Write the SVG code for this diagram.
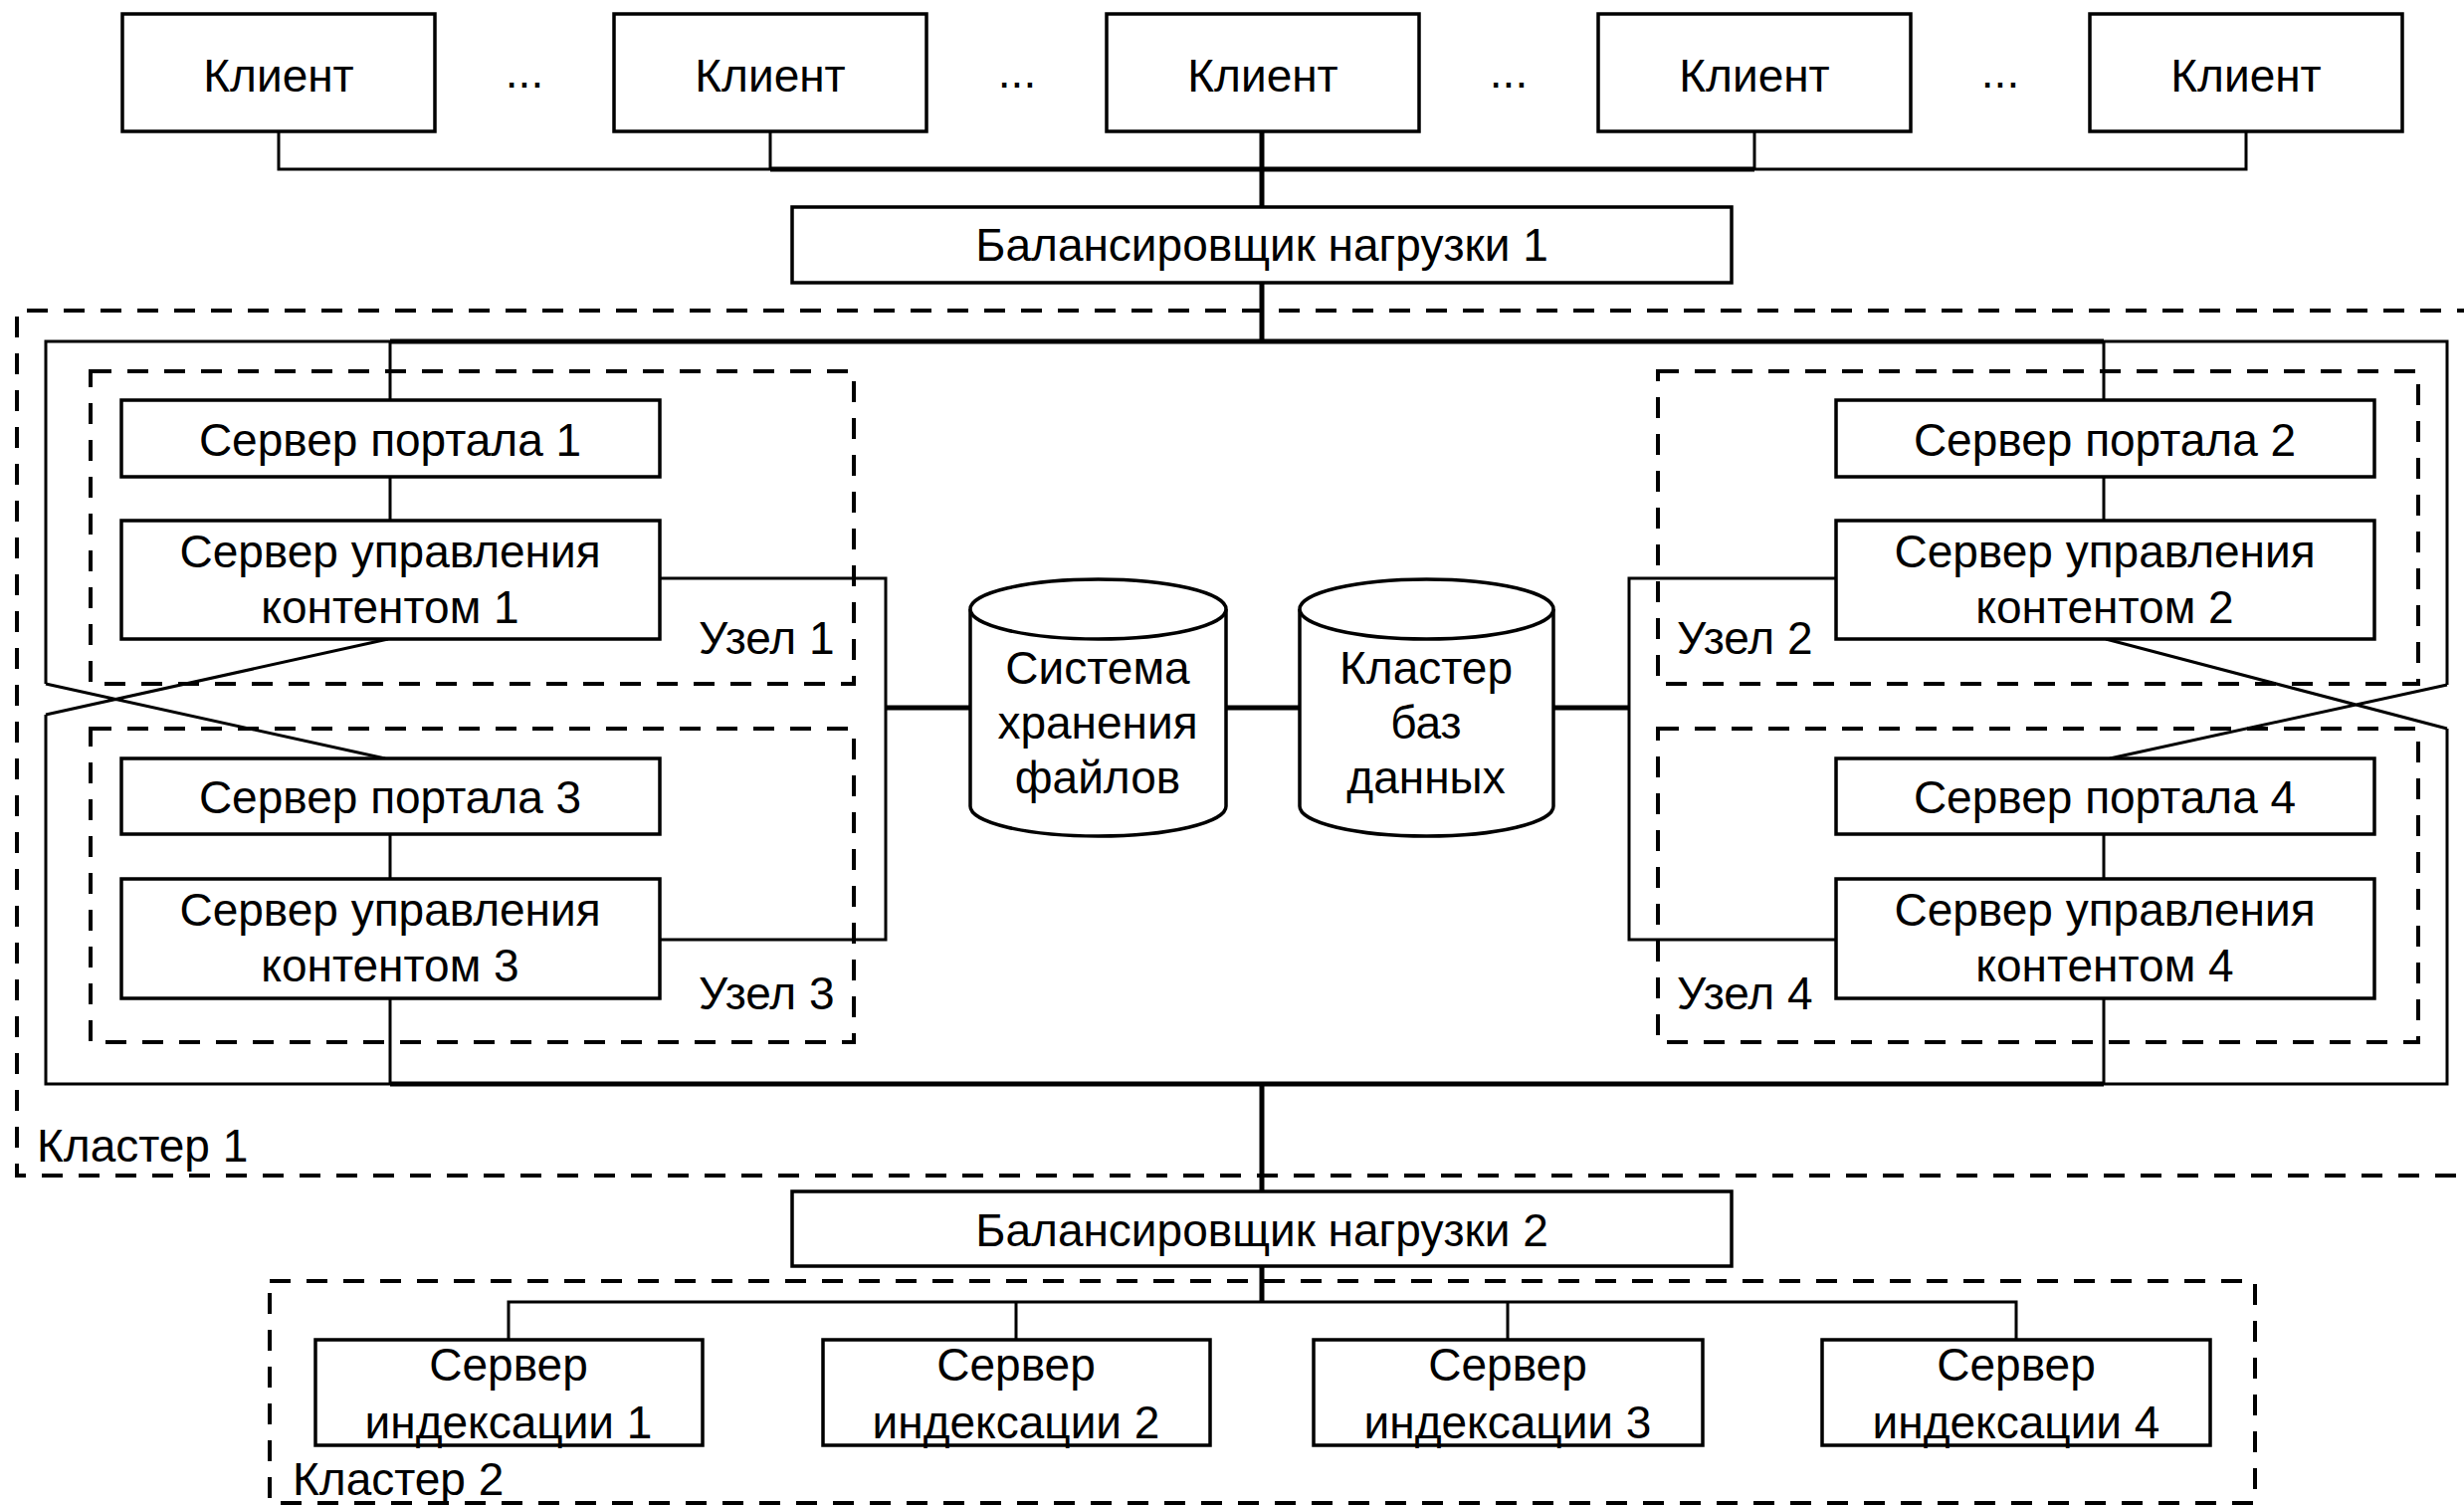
<svg xmlns="http://www.w3.org/2000/svg" width="2476" height="1512" viewBox="0 0 2476 1512">
<style>
.bg{fill:#fff}
.box{fill:#fff;stroke:#000;stroke-width:3.5}
.cyl{fill:#fff;stroke:#000;stroke-width:3.5}
.dash{fill:none;stroke:#000;stroke-width:4;stroke-dasharray:21 16}
.ln{fill:none;stroke:#000;stroke-width:3}
.thk{fill:none;stroke:#000;stroke-width:5}
.t{font-family:"Liberation Sans",Arial,sans-serif;font-size:46px;fill:#000;text-anchor:middle}
.ts{font-family:"Liberation Sans",Arial,sans-serif;font-size:46px;fill:#000;text-anchor:start}
</style>
<rect class="bg" x="0" y="0" width="2476" height="1512"/>

<g id="groups">
  <path id="cluster1" class="dash" d="M2490,312 H17 V1181 H2490"/>
  <rect id="node1" class="dash" x="91" y="373" width="767" height="314"/>
  <rect id="node3" class="dash" x="91" y="732" width="767" height="315"/>
  <rect id="node2" class="dash" x="1666" y="373" width="764" height="314"/>
  <rect id="node4" class="dash" x="1666" y="732" width="764" height="315"/>
  <rect id="cluster2" class="dash" x="271" y="1287" width="1995" height="223"/>
  <text class="ts" x="702" y="657">Узел 1</text>
  <text class="ts" x="702" y="1014">Узел 3</text>
  <text class="ts" x="1685" y="657">Узел 2</text>
  <text class="ts" x="1685" y="1014">Узел 4</text>
  <text class="ts" x="37" y="1167">Кластер 1</text>
  <text class="ts" x="294" y="1502">Кластер 2</text>
</g>

<g id="connectors">
  <path class="ln" d="M280,132 V170 H774 M1763,170 H2257 V132 M774,132 V170 M1763,132 V170"/>
  <path class="thk" d="M774,170 H1763"/>
  <path class="thk" d="M1268,132 V208 M1268,284 V343 M1268,1089 V1197 M1268,1272 V1308"/>
  <path class="ln" d="M392,343 H46 V687 M46,718 V1089 H392"/>
  <path class="ln" d="M2114,343 H2459 V688 M2459,732 V1089 H2114"/>
  <path class="thk" d="M392,343 H2114 M392,1089 H2114"/>
  <path class="ln" d="M46,687 L387,762 M46,718 L390,642"/>
  <path class="ln" d="M2459,688 L2120,762 M2459,732 L2116,642"/>
  <path class="ln" d="M392,343 V402 M392,479 V523 M392,838 V883 M392,1003 V1089"/>
  <path class="ln" d="M2114,343 V402 M2114,479 V523 M2114,838 V883 M2114,1003 V1089"/>
  <path class="ln" d="M663,581 H890 V944 H663 M1845,581 H1637 V944 H1845"/>
  <path class="thk" d="M890,711 H975 M1232,711 H1306 M1561,711 H1637"/>
  <path class="ln" d="M511,1346 V1308 H2026 V1346 M1021,1308 V1346 M1515,1308 V1346"/>
</g>

<g id="client1"><rect class="box" x="123" y="14" width="314" height="118"/><text class="t" x="280" y="92">Клиент</text></g>
<g id="dots1"><text class="t" x="527" y="88">...</text></g>
<g id="client2"><rect class="box" x="617" y="14" width="314" height="118"/><text class="t" x="774" y="92">Клиент</text></g>
<g id="dots2"><text class="t" x="1022" y="88">...</text></g>
<g id="client3"><rect class="box" x="1112" y="14" width="314" height="118"/><text class="t" x="1269" y="92">Клиент</text></g>
<g id="dots3"><text class="t" x="1516" y="88">...</text></g>
<g id="client4"><rect class="box" x="1606" y="14" width="314" height="118"/><text class="t" x="1763" y="92">Клиент</text></g>
<g id="dots4"><text class="t" x="2010" y="88">...</text></g>
<g id="client5"><rect class="box" x="2100" y="14" width="314" height="118"/><text class="t" x="2257" y="92">Клиент</text></g>

<g id="balancer1"><rect class="box" x="796" y="208" width="944" height="76"/><text class="t" x="1268" y="262">Балансировщик нагрузки 1</text></g>

<g id="portal1"><rect class="box" x="122" y="402" width="541" height="77"/><text class="t" x="392" y="458">Сервер портала 1</text></g>
<g id="cms1"><rect class="box" x="122" y="523" width="541" height="119"/><text class="t" x="392" y="570">Сервер управления</text><text class="t" x="392" y="626">контентом 1</text></g>
<g id="portal3"><rect class="box" x="122" y="762" width="541" height="76"/><text class="t" x="392" y="817">Сервер портала 3</text></g>
<g id="cms3"><rect class="box" x="122" y="883" width="541" height="120"/><text class="t" x="392" y="930">Сервер управления</text><text class="t" x="392" y="986">контентом 3</text></g>

<g id="portal2"><rect class="box" x="1845" y="402" width="541" height="77"/><text class="t" x="2115" y="458">Сервер портала 2</text></g>
<g id="cms2"><rect class="box" x="1845" y="523" width="541" height="119"/><text class="t" x="2115" y="570">Сервер управления</text><text class="t" x="2115" y="626">контентом 2</text></g>
<g id="portal4"><rect class="box" x="1845" y="762" width="541" height="76"/><text class="t" x="2115" y="817">Сервер портала 4</text></g>
<g id="cms4"><rect class="box" x="1845" y="883" width="541" height="120"/><text class="t" x="2115" y="930">Сервер управления</text><text class="t" x="2115" y="986">контентом 4</text></g>

<g id="filestorage">
  <path class="cyl" d="M975,612 V810 A128.5,30 0 0 0 1232,810 V612"/>
  <ellipse class="cyl" cx="1103.5" cy="612" rx="128.5" ry="30"/>
  <text class="t" x="1103" y="687">Система</text>
  <text class="t" x="1103" y="742">хранения</text>
  <text class="t" x="1103" y="797">файлов</text>
</g>
<g id="dbcluster">
  <path class="cyl" d="M1306,612 V810 A127.5,30 0 0 0 1561,810 V612"/>
  <ellipse class="cyl" cx="1433.5" cy="612" rx="127.5" ry="30"/>
  <text class="t" x="1433" y="687">Кластер</text>
  <text class="t" x="1433" y="742">баз</text>
  <text class="t" x="1433" y="797">данных</text>
</g>

<g id="balancer2"><rect class="box" x="796" y="1197" width="944" height="75"/><text class="t" x="1268" y="1252">Балансировщик нагрузки 2</text></g>

<g id="index1"><rect class="box" x="317" y="1346" width="389" height="106"/><text class="t" x="511" y="1387">Сервер</text><text class="t" x="511" y="1445">индексации 1</text></g>
<g id="index2"><rect class="box" x="827" y="1346" width="389" height="106"/><text class="t" x="1021" y="1387">Сервер</text><text class="t" x="1021" y="1445">индексации 2</text></g>
<g id="index3"><rect class="box" x="1320" y="1346" width="391" height="106"/><text class="t" x="1515" y="1387">Сервер</text><text class="t" x="1515" y="1445">индексации 3</text></g>
<g id="index4"><rect class="box" x="1831" y="1346" width="390" height="106"/><text class="t" x="2026" y="1387">Сервер</text><text class="t" x="2026" y="1445">индексации 4</text></g>
</svg>
